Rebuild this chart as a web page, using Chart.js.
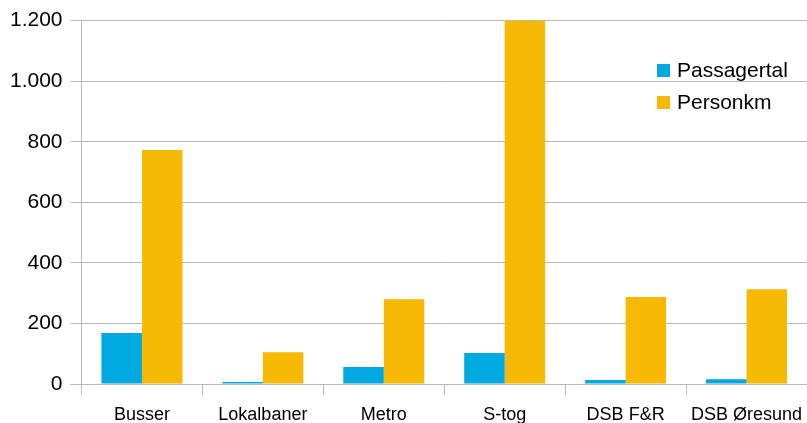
<!DOCTYPE html>
<html>
<head>
<meta charset="utf-8">
<script src="https://cdn.jsdelivr.net/npm/chart.js@4/dist/chart.umd.min.js"></script>
<style>
  html, body { margin: 0; padding: 0; background: #fff; }
  #wrap { width: 807px; height: 423px; }
</style>
</head>
<body>
<div id="wrap"><canvas id="c" width="807" height="423"></canvas></div>
<script>
// Transport modes and their figures
const categories = ['Busser', 'Lokalbaner', 'Metro', 'S-tog', 'DSB F&R', 'DSB Øresund'];
const passagertal = [168, 7, 56, 102, 13, 16];
const personkm = [773, 105, 280, 1200, 287, 313];
const seriesNames = ['Passagertal', 'Personkm'];
const yTicks = [0, 200, 400, 600, 800, 1000, 1200];

const BLUE = '#00a9df';
const GOLD = '#f8b904';
const GRID = '#b8b8b8';
const FAMILY = '"Liberation Sans", Arial, sans-serif';

// Legend drawn inside the plot area, top right
const innerLegend = {
  id: 'innerLegend',
  afterDraw(chart) {
    const ctx = chart.ctx;
    ctx.save();
    ctx.font = `21px ${FAMILY}`;
    ctx.textBaseline = 'middle';
    chart.data.datasets.forEach((ds, i) => {
      const y = 70 + i * 32;
      ctx.fillStyle = ds.backgroundColor;
      ctx.fillRect(657, y - 6, 13, 13);
      ctx.fillStyle = '#000';
      ctx.fillText(ds.label, 677, y + 1);
    });
    ctx.restore();
  }
};

new Chart(document.getElementById('c'), {
  type: 'bar',
  data: {
    labels: categories,
    datasets: [
      { label: seriesNames[0], data: passagertal, backgroundColor: BLUE },
      { label: seriesNames[1], data: personkm, backgroundColor: GOLD }
    ]
  },
  options: {
    responsive: false,
    animation: false,
    layout: { padding: { top: 20, right: 0, left: 0, bottom: 0 } },
    datasets: { bar: { categoryPercentage: 0.67, barPercentage: 1.0 } },
    plugins: { legend: { display: false }, tooltip: { enabled: false } },
    scales: {
      x: {
        grid: { offset: true, drawOnChartArea: false, color: GRID, tickLength: 11, lineWidth: 1 },
        border: { color: GRID, width: 1 },
        ticks: { color: '#000', font: { family: FAMILY, size: 18 }, padding: 9, maxRotation: 0, autoSkip: false },
        afterFit(scale) {
          scale.height = 39;
          scale.paddingLeft = 0;
          scale.paddingRight = 0;
        }
      },
      y: {
        min: 0,
        max: 1200,
        afterBuildTicks(scale) { scale.ticks = yTicks.map(v => ({ value: v })); },
        grid: { color: GRID, tickLength: 11, lineWidth: 1 },
        border: { color: GRID, width: 1 },
        ticks: {
          color: '#000',
          font: { family: FAMILY, size: 21 },
          padding: 8,
          callback: v => v.toLocaleString('da-DK')
        },
        afterFit(scale) { scale.width = 81.5; }
      }
    }
  },
  plugins: [innerLegend]
});
</script>
</body>
</html>
